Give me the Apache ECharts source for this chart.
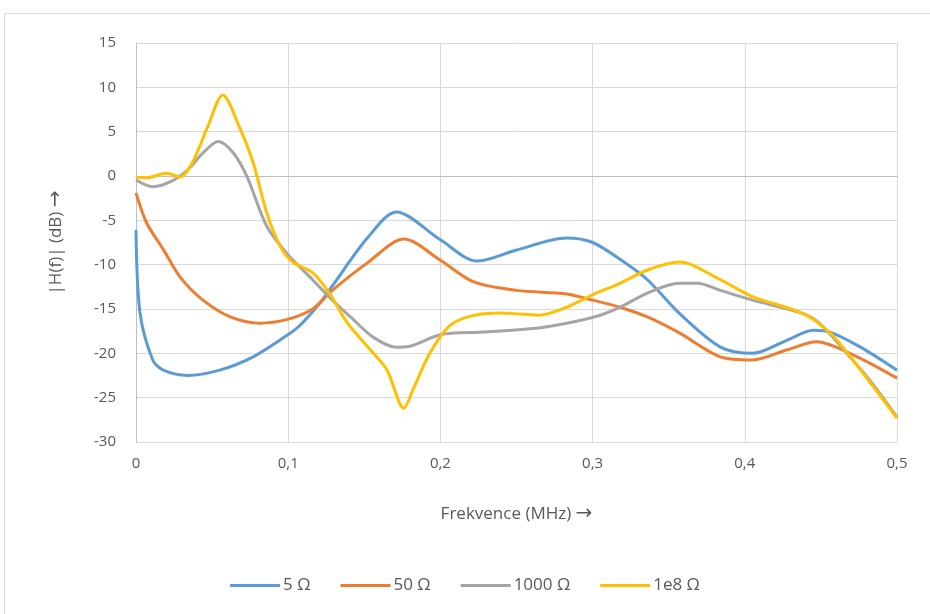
<!DOCTYPE html>
<html><head><meta charset="utf-8">
<script src="https://cdn.jsdelivr.net/npm/echarts@6/dist/echarts.min.js"></script>
<style>html,body{margin:0;padding:0;background:#fff}#c{width:930px;height:614px}</style>
</head><body><div id="c"></div>
<script>
const seriesNames = ['5 Ω', '50 Ω', '1000 Ω', '1e8 Ω'];
const colors = ['#5b9bd5', '#ed7d31', '#a5a5a5', '#ffc000'];
const xTicks = [0, 0.1, 0.2, 0.3, 0.4, 0.5];
const yTicks = [-30, -25, -20, -15, -10, -5, 0, 5, 10, 15];

const freq5 = [0, 0.0026, 0.011, 0.018, 0.034, 0.055, 0.077, 0.099, 0.108, 0.121, 0.129, 0.152, 0.171, 0.2, 0.224, 0.25, 0.283, 0.3, 0.318, 0.336, 0.357, 0.384, 0.405, 0.428, 0.445, 0.456, 0.476, 0.5];
const db5   = [-6.1, -15.4, -20.75, -21.9, -22.5, -21.9, -20.4, -18.0, -16.8, -14.3, -12.4, -7.0, -4.06, -7.2, -9.6, -8.35, -7.0, -7.5, -9.4, -11.7, -15.5, -19.3, -20.0, -18.5, -17.4, -17.6, -19.3, -21.9];

const freq50 = [0, 0.007, 0.018, 0.029, 0.044, 0.062, 0.081, 0.099, 0.116, 0.129, 0.152, 0.176, 0.2, 0.222, 0.25, 0.283, 0.3, 0.318, 0.336, 0.357, 0.384, 0.405, 0.428, 0.447, 0.46, 0.482, 0.5];
const db50   = [-1.9, -5.3, -8.3, -11.4, -14.0, -15.9, -16.6, -16.2, -15.0, -12.9, -9.8, -7.1, -9.5, -11.95, -12.9, -13.3, -14.0, -14.8, -15.9, -17.7, -20.4, -20.75, -19.6, -18.7, -19.3, -21.1, -22.8];

const freq1000 = [0, 0.011, 0.022, 0.034, 0.044, 0.054, 0.064, 0.073, 0.086, 0.099, 0.116, 0.129, 0.141, 0.156, 0.171, 0.18, 0.2, 0.228, 0.261, 0.283, 0.305, 0.318, 0.336, 0.357, 0.369, 0.384, 0.405, 0.438, 0.449, 0.467, 0.482, 0.5];
const db1000   = [-0.45, -1.2, -0.7, 0.7, 2.6, 3.9, 2.6, -0.1, -5.7, -8.7, -11.7, -14.0, -15.9, -18.2, -19.3, -19.2, -17.9, -17.6, -17.2, -16.6, -15.7, -14.8, -13.2, -12.1, -12.1, -12.9, -14.0, -15.5, -16.6, -20.0, -23.0, -27.2];

const freq1e8 = [0, 0.007, 0.02, 0.029, 0.037, 0.047, 0.057, 0.068, 0.077, 0.086, 0.095, 0.103, 0.116, 0.127, 0.139, 0.156, 0.165, 0.176, 0.182, 0.193, 0.206, 0.22, 0.239, 0.265, 0.283, 0.3, 0.318, 0.336, 0.357, 0.384, 0.405, 0.438, 0.456, 0.471, 0.5];
const db1e8   = [-0.1, -0.2, 0.3, -0.1, 1.5, 5.5, 9.14, 5.5, 1.5, -4.2, -8.0, -9.7, -10.9, -13.2, -16.6, -20.0, -21.9, -26.2, -24.1, -20.0, -16.9, -15.8, -15.45, -15.7, -14.8, -13.4, -12.1, -10.6, -9.7, -11.7, -13.6, -15.5, -17.7, -20.75, -27.3];

const xs = [freq5, freq50, freq1000, freq1e8];
const ys = [db5, db50, db1000, db1e8];

const font = 'Open Sans';
const chart = echarts.init(document.getElementById('c'), null, {renderer: 'canvas'});
chart.setOption({
  animation: false,
  backgroundColor: '#fff',
  graphic: [{
    type: 'rect', shape: {x: 4.5, y: 13.5, width: 940, height: 620},
    style: {fill: 'none', stroke: '#d9d9d9', lineWidth: 1}
  }],
  grid: {left: 136, top: 43, right: 33, bottom: 172, containLabel: false},
  xAxis: {
    type: 'value', min: xTicks[0], max: xTicks[xTicks.length - 1], interval: 0.1,
    name: '{t|Frekvence (MHz)} {a|→}', nameLocation: 'middle', nameGap: 62,
    nameTextStyle: {color: '#595959', fontSize: 17, fontFamily: font,
      rich: {t: {color: '#595959', fontSize: 17, fontFamily: font},
             a: {color: '#595959', fontSize: 20, fontFamily: 'DejaVu Sans'}}},
    axisLine: {show: true, lineStyle: {color: '#bfbfbf', width: 1}},
    axisTick: {show: false},
    axisLabel: {color: '#595959', fontSize: 15, fontFamily: font, margin: 14,
      formatter: v => String(+v.toFixed(1)).replace('.', ',')},
    splitLine: {show: true, lineStyle: {color: '#d9d9d9', width: 1}}
  },
  yAxis: {
    type: 'value', min: yTicks[0], max: yTicks[yTicks.length - 1], interval: 5,
    name: '{t||H(f)| (dB)} {a|→}', nameLocation: 'middle', nameGap: 70, nameRotate: 90,
    nameTextStyle: {color: '#595959', fontSize: 17, fontFamily: font,
      rich: {t: {color: '#595959', fontSize: 17, fontFamily: font},
             a: {color: '#595959', fontSize: 20, fontFamily: 'DejaVu Sans'}}},
    axisLine: {show: true, lineStyle: {color: '#bfbfbf', width: 1}},
    axisTick: {show: false},
    axisLabel: {color: '#595959', fontSize: 15, fontFamily: font, margin: 20},
    splitLine: {show: true, lineStyle: {color: '#d9d9d9', width: 1}}
  },
  legend: {
    bottom: 15, left: 'center', itemWidth: 50, itemHeight: 3, itemGap: 30,
    icon: 'rect',
    textStyle: {color: '#595959', fontSize: 17, fontFamily: font, padding: [0, 0, 0, -2]},
    data: seriesNames
  },
  series: seriesNames.map((n, i) => ({
    name: n, type: 'line', smooth: 0.3, symbol: 'none',
    lineStyle: {color: colors[i], width: 3},
    itemStyle: {color: colors[i]},
    data: xs[i].map((x, j) => [x, ys[i][j]])
  }))
});
</script></body></html>
